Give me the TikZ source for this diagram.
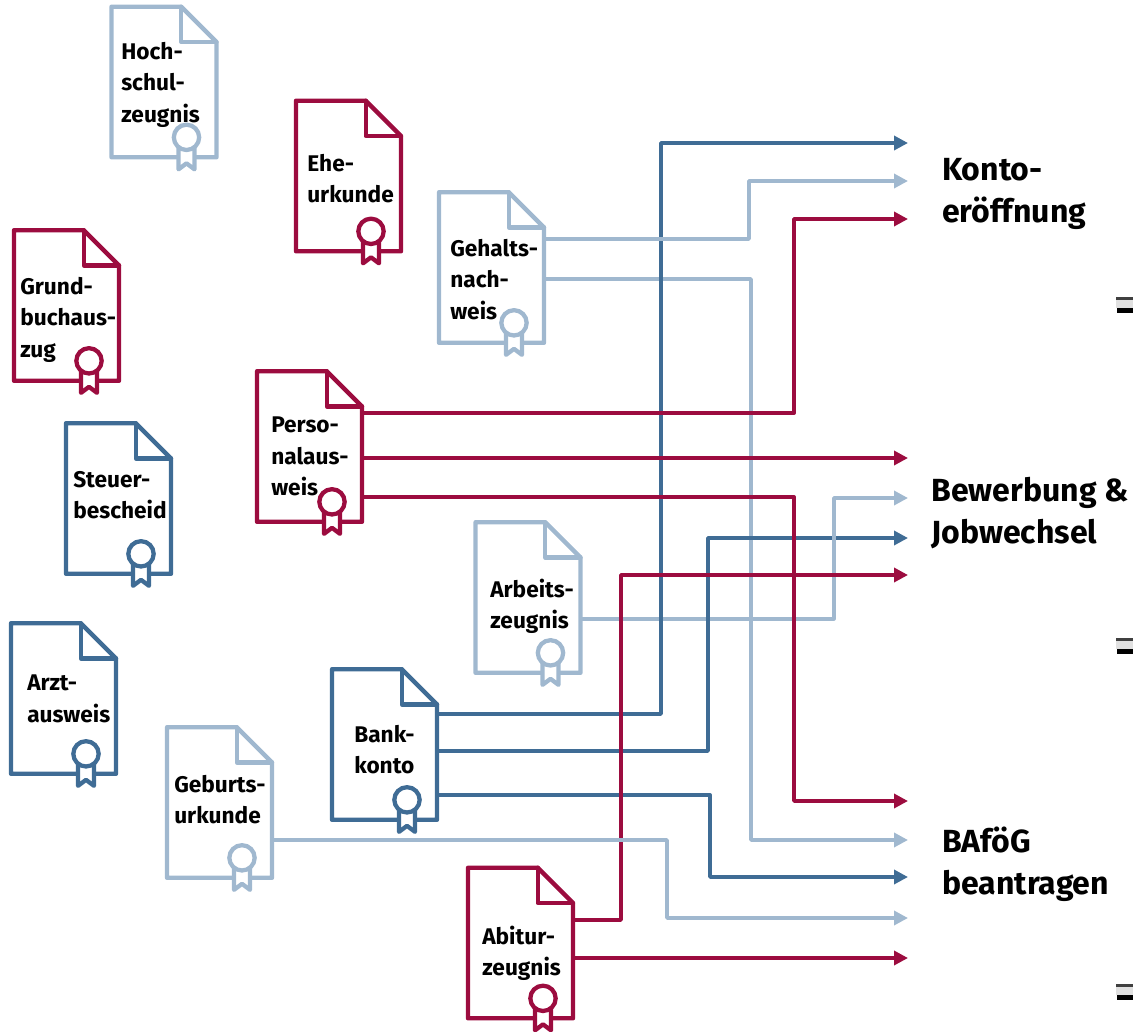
\documentclass[tikz,border=0pt]{standalone}
\usepackage{fontspec}
\setmainfont{Fira Sans}
\usetikzlibrary{arrows.meta,calc}
\definecolor{cblue}{HTML}{3F6C95}
\definecolor{clight}{HTML}{A0B8CF}
\definecolor{cred}{HTML}{9C0C3F}
\tikzset{
  x=0.75pt,y=-0.75pt,
  docbox/.style={minimum width=78.75pt,minimum height=113pt,inner sep=0pt,outer sep=0pt},
  docline/.style={line width=3.2pt,line join=round,line cap=round},
  doclabel/.style={anchor=north west,inner sep=0pt,align=left,font=\fontsize{17}{23.5}\selectfont\bfseries,text=black},
  destlabel/.style={anchor=north west,inner sep=0pt,align=left,font=\fontsize{24}{31.5}\selectfont\bfseries,text=black},
  conn/.style={line width=2.6pt,line join=round,-{Triangle[length=10.5pt,width=10.5pt]}},
}
% name, centre x, centre y, colour
\newcommand{\docicon}[4]{%
  \node[docbox] (#1) at (#2,#3) {};
  \draw[docline,draw=#4] (#1.north west) -- ($(#1.north east)+(-26.5pt,0)$) -- ($(#1.north east)+(0,-26.5pt)$) -- (#1.south east) -- (#1.south west) -- cycle;
  \draw[docline,draw=#4] ($(#1.north east)+(-26.5pt,0)$) -- ($(#1.north east)+(-26.5pt,-26.5pt)$) -- ($(#1.north east)+(0,-26.5pt)$);
  \coordinate (#1-seal) at ($(#1.south east)+(-22.5pt,15pt)$);
  \fill[white] ($(#1-seal)+(-6pt,0)$) rectangle ($(#1-seal)+(6pt,-20pt)$);
  \draw[docline,draw=#4,fill=white] ($(#1-seal)+(-6pt,-6pt)$) -- ($(#1-seal)+(-6pt,-24pt)$) -- ($(#1-seal)+(0,-19.5pt)$) -- ($(#1-seal)+(6pt,-24pt)$) -- ($(#1-seal)+(6pt,-6pt)$);
  \draw[docline,draw=#4,fill=white] (#1-seal) circle (9.5pt);
}
\begin{document}
\begin{tikzpicture}
\useasboundingbox (0,0) rectangle (1133,1032);
% documents
\docicon{hoch}{164}{82}{clight}
\docicon{ehe}{348.5}{176}{cred}
\docicon{gehalt}{491.5}{267.5}{clight}
\docicon{grund}{66.5}{305.5}{cred}
\docicon{perso}{309.5}{446.5}{cred}
\docicon{steuer}{118.5}{498.5}{cblue}
\docicon{arbeit}{528}{597.5}{clight}
\docicon{arzt}{63.5}{698.5}{cblue}
\docicon{geburt}{219.5}{802.5}{clight}
\docicon{bank}{384.5}{744.5}{cblue}
\docicon{abitur}{520.5}{943}{cred}
% labels
\node[doclabel] (hoch-t) at (121,42) {Hoch-\\schul-\\zeugnis};
\node[doclabel] (ehe-t) at (307,154) {Ehe-\\urkunde};
\node[doclabel] (gehalt-t) at (450,239) {Gehalts-\\nach-\\weis};
\node[doclabel] (grund-t) at (20,277) {Grund-\\buchaus-\\zug};
\node[doclabel] (perso-t) at (271,417) {Perso-\\nalaus-\\weis};
\node[doclabel] (steuer-t) at (73,471) {Steuer-\\bescheid};
\node[doclabel] (arbeit-t) at (490,579) {Arbeits-\\zeugnis};
\node[doclabel] (arzt-t) at (27,675) {Arzt-\\ausweis};
\node[doclabel] (geburt-t) at (174,775) {Geburts-\\urkunde};
\node[doclabel] (bank-t) at (354,725) {Bank-\\konto};
\node[doclabel] (abitur-t) at (482,926) {Abitur-\\zeugnis};
\node[destlabel] (d1) at (942,158) {Konto-\\eröffnung};
\node[destlabel] (d2) at (931,477) {Bewerbung \&\\Jobwechsel};
\node[destlabel] (d3) at (942,827) {BAföG\\beantragen};
% arrow ends
\foreach \n/\y in {a/143,b/181,c/219,e/458,f/498,g/538,h/575,i/801,j/840,k/877,l/918,m/958}
  \coordinate (t\n) at (908,\y);
% connectors, in the stacking order of the crossings
\draw[conn,clight] ($(gehalt.east)+(0,-8.6pt)$) -| (751,840) -- (tj);
\draw[conn,clight] ($(arbeit.east)+(0,-16pt)$) -| (834,498) -- (tf);
\draw[conn,cblue] ($(bank.east)+(0,22.9pt)$) -| (661,143) -- (ta);
\draw[conn,cblue] ($(bank.east)+(0,-4.9pt)$) -| (708,538) -- (tg);
\draw[conn,cblue] ($(bank.east)+(0,-37.9pt)$) -| (710,877) -- (tk);
\draw[line width=2.6pt,clight] (834,531) -- (834,545);
\draw[conn,clight] ($(gehalt.east)+(0,21.4pt)$) -| (749,181) -- (tb);
\draw[conn,cred] ($(perso.east)+(0,25pt)$) -| (794,219) -- (tc);
\draw[conn,cred] (perso.east |- te) -- (te);
\draw[conn,cred] ($(perso.east)+(0,-37.9pt)$) -| (794,801) -- (ti);
\draw[conn,cred] ($(abitur.east)+(0,17.2pt)$) -| (621,575) -- (th);
\draw[conn,cred] (abitur.east |- tm) -- (tm);
\draw[conn,clight] ($(geburt.east)+(0,-28.1pt)$) -| (667,918) -- (tl);
% scan residue at the right edge
\foreach \y in {297,638,984}{
  \fill[black!75] (1116,\y) rectangle (1133,\y+3);
  \fill[black!12] (1116,\y+3) rectangle (1133,\y+11);
  \fill[black] (1117,\y+11) rectangle (1133,\y+16);
}
\end{tikzpicture}
\end{document}
